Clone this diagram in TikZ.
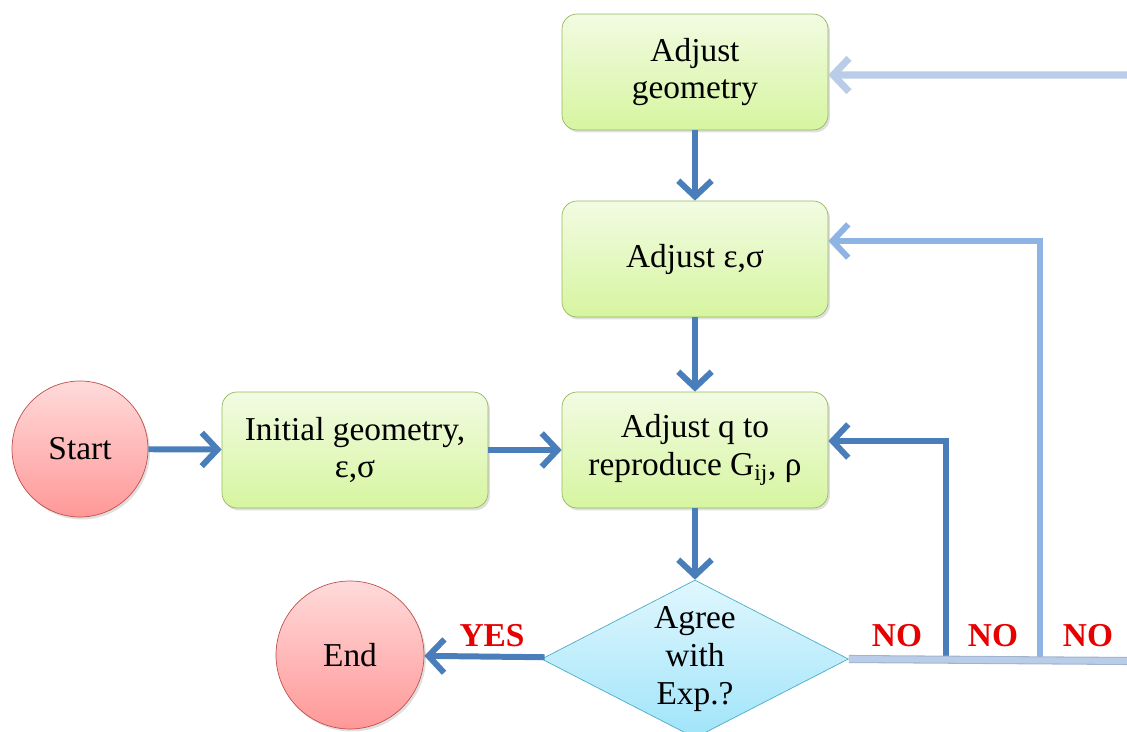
\documentclass[tikz,border=0pt]{standalone}
\usepackage{fontspec}
\setmainfont{Liberation Serif}
\usepackage{tikz}
\usetikzlibrary{arrows,arrows.meta,shapes,positioning,shadows}
\usepackage{xcolor}
\definecolor{fcdark}{RGB}{74,126,187}
\definecolor{fcmid}{RGB}{142,180,227}
\definecolor{fcpale}{RGB}{185,205,232}
\definecolor{fcpaleedge}{RGB}{160,180,205}
\definecolor{fcred}{RGB}{230,0,0}
\definecolor{boxtop}{RGB}{242,251,226}
\definecolor{boxbot}{RGB}{214,245,160}
\definecolor{boxline}{RGB}{150,185,90}
\definecolor{pinktop}{RGB}{255,218,218}
\definecolor{pinkbot}{RGB}{255,152,152}
\definecolor{pinkline}{RGB}{192,80,77}
\definecolor{cyantop}{RGB}{224,247,253}
\definecolor{cyanbot}{RGB}{160,228,250}
\definecolor{cyanline}{RGB}{75,172,198}
\newcommand{\flowfont}{\fontsize{19}{21.5}\selectfont}
\tikzstyle{box} = [draw=boxline, rounded corners=0.3cm, top color=boxtop, bottom color=boxbot, minimum width=5.32cm, minimum height=2.32cm, align=center, font=\flowfont, drop shadow={opacity=0.25, shadow xshift=0.04cm, shadow yshift=-0.05cm}]
\tikzstyle{startend} = [circle, draw=pinkline, top color=pinktop, bottom color=pinkbot, inner sep=0pt, font=\flowfont, drop shadow={opacity=0.25, shadow xshift=0.04cm, shadow yshift=-0.05cm}]
\tikzstyle{decision} = [diamond, draw=cyanline, top color=cyantop, bottom color=cyanbot, aspect=1.94, inner sep=0pt, minimum width=6.14cm, minimum height=3.16cm, align=center, font=\flowfont]
\tikzstyle{arrow} = [line width=3.4pt, -{Straight Barb[length=9pt,width=19pt]}, color=fcdark]
\tikzstyle{paleline} = [draw=fcpaleedge, double=fcpale, double distance=3.4pt, line width=0.6pt]
\tikzstyle{answer} = [font=\flowfont\bfseries, text=fcred]

\begin{document}
\begin{tikzpicture}[x=0.02cm, y=-0.02cm]
\useasboundingbox (0,0) rectangle (1127,732);

% Boxes
\node[box] (geom) at (695,72) {Adjust\\geometry};
\node[box] (epssig) at (695,259) {Adjust ε,σ};
\node[box] (adjq) at (695,450) {Adjust q to\\reproduce G\textsubscript{ij}, ρ};
\node[box] (init) at (355,450) {Initial geometry,\\ε,σ};
\node[startend, minimum size=2.72cm] (start) at (80,449) {Start};
\node[startend, minimum size=2.96cm] (end) at (350,655) {End};
\node[decision] (agree) at (695,659) {Agree\\with\\Exp.?};

% Main flow
\draw[arrow] (geom) -- (epssig);
\draw[arrow] (epssig) -- (adjq);
\draw[arrow] (adjq) -- (agree);
\draw[arrow] (start) -- (init);
\draw[arrow] (init) -- (adjq);
\draw[arrow] (agree) -- (end);

% Feedback loops
\coordinate (rim) at (1127,661);
\coordinate (noq) at (946,658);
\coordinate (noeps) at (1040,658);
\coordinate (nogeom) at (1127,75);
\draw[arrow] (noq) |- ([yshift=0.18cm]adjq.east);
\draw[arrow, color=fcmid] (noeps) |- ([yshift=0.36cm]epssig.east);
\draw[arrow, color=fcpale, line width=4pt] (nogeom) -- ([yshift=-0.06cm]geom.east);
\draw[paleline] (agree.east) -- (rim);

% Labels
\node[answer] (yes) at (492,636) {YES};
\node[answer] (no1) at (897,636) {NO};
\node[answer] (no2) at (993,636) {NO};
\node[answer] (no3) at (1088,636) {NO};
\end{tikzpicture}
\end{document}
